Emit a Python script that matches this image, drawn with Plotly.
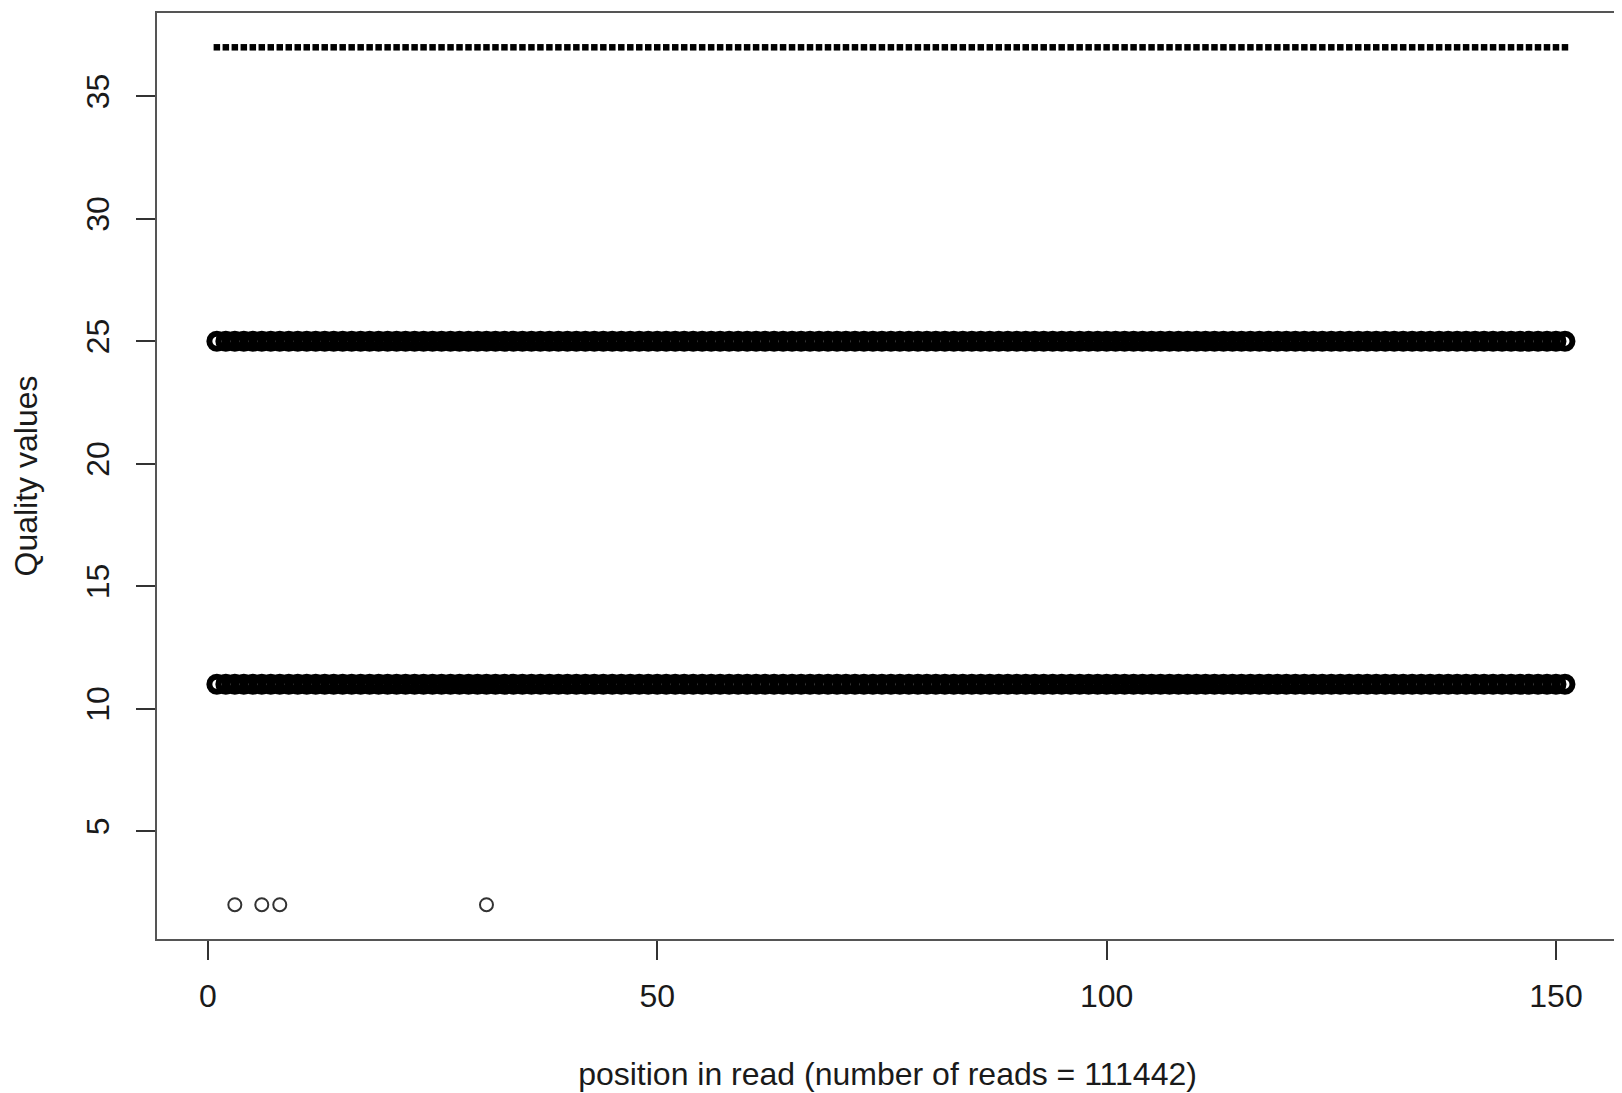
import plotly.graph_objects as go

# ---- data ----
positions = list(range(1, 152))          # position in read 1..151
q_high = [37] * len(positions)           # top row (dashes)
q_mid = [25] * len(positions)            # middle dense row
q_low = [11] * len(positions)            # lower dense row
rare_positions = [3, 6, 8, 31]           # isolated low-quality points
rare_values = [2, 2, 2, 2]

x_ticks = [0, 50, 100, 150]
y_ticks = [5, 10, 15, 20, 25, 30, 35]

FONT = "Liberation Sans, Arial, Helvetica, sans-serif"

fig = go.Figure()

fig.add_trace(go.Scatter(
    x=positions, y=q_high, mode="markers",
    marker=dict(symbol="square", size=6.5, color="black",
                line=dict(width=0)),
    showlegend=False, hoverinfo="x+y"))

for vals in (q_mid, q_low):
    fig.add_trace(go.Scatter(
        x=positions, y=vals, mode="markers",
        marker=dict(symbol="circle-open", size=15, color="black",
                    line=dict(color="black", width=6)),
        showlegend=False, hoverinfo="x+y"))

fig.add_trace(go.Scatter(
    x=rare_positions, y=rare_values, mode="markers",
    marker=dict(symbol="circle-open", size=13, color="#333333",
                line=dict(color="#333333", width=2)),
    showlegend=False, hoverinfo="x+y"))

fig.update_layout(
    width=1614, height=1085, autosize=False,
    margin=dict(l=149, r=2, t=5, b=154, pad=0),
    paper_bgcolor="white", plot_bgcolor="white",
    font=dict(family=FONT, size=32, color="#1a1a1a"),
)

fig.update_xaxes(
    range=[-5.66, 156.9], tickmode="array", tickvals=x_ticks,
    ticktext=[str(v) for v in x_ticks],
    showgrid=False, zeroline=False,
    showline=True, mirror=True, linecolor="#555555", linewidth=2,
    ticks="outside", ticklen=19, tickwidth=1.5, tickcolor="#333333",
    ticklabelstandoff=9,
    title=dict(text="position in read (number of reads = 111442)",
               font=dict(size=32), standoff=49),
)
fig.update_yaxes(
    range=[0.6, 38.4], tickmode="array", tickvals=y_ticks,
    ticktext=[str(v) for v in y_ticks], tickangle=-90,
    showgrid=False, zeroline=False,
    showline=True, mirror=True, linecolor="#555555", linewidth=2,
    ticks="outside", ticklen=19, tickwidth=1.5, tickcolor="#333333",
    ticklabelstandoff=14,
    title=dict(text="Quality values", font=dict(size=32), standoff=38),
)

fig.write_html("out.html")
